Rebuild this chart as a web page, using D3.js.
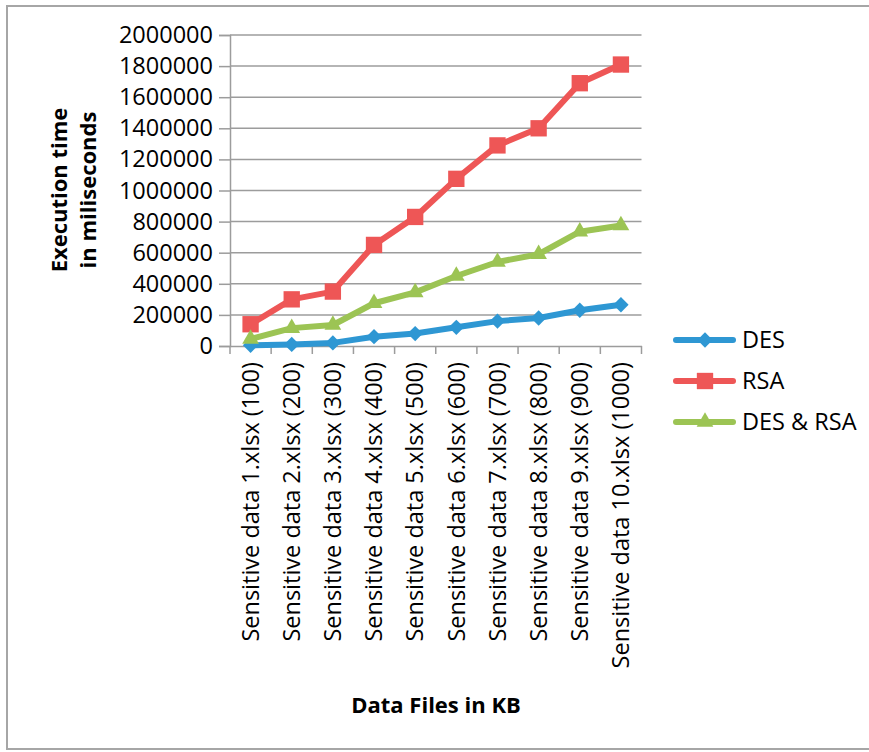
<!DOCTYPE html>
<html>
<head>
<meta charset="utf-8">
<script src="https://cdn.jsdelivr.net/npm/d3@7"></script>
<style>
  html, body { margin: 0; padding: 0; background: #fff; }
  text { font-family: "Open Sans", "DejaVu Sans", sans-serif; fill: #000; }
</style>
</head>
<body>
<div id="chart"></div>
<script>
// Categories (x axis)
var files = [
    "Sensitive data 1.xlsx (100)",
    "Sensitive data 2.xlsx (200)",
    "Sensitive data 3.xlsx (300)",
    "Sensitive data 4.xlsx (400)",
    "Sensitive data 5.xlsx (500)",
    "Sensitive data 6.xlsx (600)",
    "Sensitive data 7.xlsx (700)",
    "Sensitive data 8.xlsx (800)",
    "Sensitive data 9.xlsx (900)",
    "Sensitive data 10.xlsx (1000)"
];

// Series values (ms)
var desValues = [5000, 10000, 20000, 60000, 80000, 120000, 160000, 180000, 230000, 265000];
var rsaValues = [140000, 300000, 350000, 650000, 830000, 1075000, 1290000, 1400000, 1690000, 1810000];
var bothValues = [45000, 115000, 135000, 275000, 345000, 450000, 540000, 590000, 735000, 775000];

// Y ticks
var yTicks = [0, 200000, 400000, 600000, 800000, 1000000, 1200000, 1400000, 1600000, 1800000, 2000000];

var series = [
    { name: "DES", values: desValues, color: "#2E97D3", symbol: d3.symbolDiamond2, size: 150 },
    { name: "RSA", values: rsaValues, color: "#EE5656", symbol: d3.symbolSquare2, size: 340 },
    { name: "DES & RSA", values: bothValues, color: "#9CC454", symbol: d3.symbolTriangle2, size: 200 }
];

var W = 869, H = 752;
var plot = { left: 230, right: 641.5, top: 35, bottom: 346 };

var svg = d3.select("#chart").append("svg")
    .attr("width", W)
    .attr("height", H);

// Outer frame
svg.append("rect")
    .attr("x", 7).attr("y", 6)
    .attr("width", 900).attr("height", 743)
    .attr("fill", "none")
    .attr("stroke", "#a6a6a6")
    .attr("stroke-width", 2);

var x = d3.scaleBand()
    .domain(files)
    .range([plot.left, plot.right]);

var y = d3.scaleLinear()
    .domain([0, 2000000])
    .range([plot.bottom, plot.top]);

// Gridlines
svg.append("g")
    .selectAll("line")
    .data(yTicks.filter(d => d > 0))
    .join("line")
    .attr("x1", plot.left).attr("x2", plot.right)
    .attr("y1", d => y(d)).attr("y2", d => y(d))
    .attr("stroke", "#9c9c9c")
    .attr("stroke-width", 1.5);

// Y axis
var yAxis = svg.append("g")
    .attr("transform", `translate(${plot.left},0)`)
    .call(d3.axisLeft(y).tickValues(yTicks).tickSize(11).tickPadding(6).tickFormat(d3.format("d")));
yAxis.select(".domain").attr("stroke", "#9c9c9c").attr("stroke-width", 1.5);
yAxis.selectAll(".tick line").attr("stroke", "#9c9c9c").attr("stroke-width", 1.5);
yAxis.selectAll(".tick text")
    .attr("font-size", "23.5px")
    .attr("font-family", "'Open Sans', sans-serif")
    .attr("fill", "#000");

// X axis
var xAxis = svg.append("g")
    .attr("transform", `translate(0,${plot.bottom})`)
    .call(d3.axisBottom(x).tickSize(0).tickSizeOuter(0));
xAxis.select(".domain").attr("stroke", "#9c9c9c").attr("stroke-width", 1.5);
// category separator ticks
svg.append("g")
    .selectAll("line")
    .data(files.concat(["end"]))
    .join("line")
    .attr("x1", (d, i) => plot.left + i * x.step())
    .attr("x2", (d, i) => plot.left + i * x.step())
    .attr("y1", plot.bottom)
    .attr("y2", plot.bottom + 8)
    .attr("stroke", "#9c9c9c")
    .attr("stroke-width", 1.5);
xAxis.selectAll(".tick text")
    .attr("font-size", "23.5px")
    .attr("font-family", "'Open Sans', sans-serif")
    .attr("fill", "#000")
    .attr("transform", "rotate(-90)")
    .attr("text-anchor", "end")
    .attr("dx", "-16px")
    .attr("dy", "0.35em")
    .attr("x", 0)
    .attr("y", 0);

// Lines and markers
var line = d3.line()
    .x((d, i) => x(files[i]) + x.bandwidth() / 2)
    .y(d => y(d));

series.forEach(function(s) {
    svg.append("path")
        .datum(s.values)
        .attr("fill", "none")
        .attr("stroke", s.color)
        .attr("stroke-width", 6)
        .attr("stroke-linejoin", "round")
        .attr("d", line);
});

series.forEach(function(s) {
    svg.append("g")
        .selectAll("path")
        .data(s.values)
        .join("path")
        .attr("transform", (d, i) => `translate(${x(files[i]) + x.bandwidth() / 2},${y(d)})`)
        .attr("d", d3.symbol().type(s.symbol).size(s.size))
        .attr("fill", s.color);
});

// Axis titles
var yTitle = svg.append("text")
    .attr("transform", "translate(59,190) rotate(-90)")
    .attr("text-anchor", "middle")
    .attr("font-size", "22px")
    .attr("font-weight", "bold");
yTitle.append("tspan").attr("x", 0).attr("dy", "0.35em").text("Execution time");
yTitle.append("tspan").attr("x", 0).attr("dy", "1.35em").text("in miliseconds");

svg.append("text")
    .attr("x", 436)
    .attr("y", 705)
    .attr("dy", "0.35em")
    .attr("text-anchor", "middle")
    .attr("font-size", "22px")
    .attr("font-weight", "bold")
    .text("Data Files in KB");

// Legend
var legend = svg.append("g")
    .selectAll("g")
    .data(series)
    .join("g")
    .attr("transform", (d, i) => `translate(676,${340 + i * 41})`);

legend.append("line")
    .attr("x1", 0).attr("x2", 57)
    .attr("stroke", d => d.color)
    .attr("stroke-width", 6)
    .attr("stroke-linecap", "round");
legend.append("path")
    .attr("transform", "translate(29,0)")
    .attr("d", d => d3.symbol().type(d.symbol).size(d.size)())
    .attr("fill", d => d.color);
legend.append("text")
    .attr("x", 66)
    .attr("dy", "0.35em")
    .attr("font-size", "23.5px")
    .text(d => d.name);
</script>
</body>
</html>
